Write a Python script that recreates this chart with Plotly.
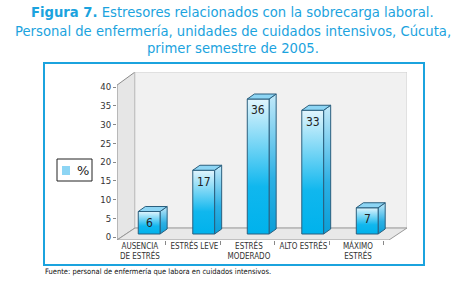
import plotly.graph_objects as go

# ---- data ----
categories = ["AUSENCIA<br>DE ESTRÉS", "ESTRÉS LEVE", "ESTRÉS<br>MODERADO", "ALTO ESTRÉS", "MÁXIMO<br>ESTRÉS"]
percent = [6, 17, 36, 33, 7]
y_ticks = [0, 5, 10, 15, 20, 25, 30, 35, 40]
title_lines = ["<b>Figura 7.</b> Estresores relacionados con la sobrecarga laboral.",
               "Personal de enfermería, unidades de cuidados intensivos, Cúcuta,",
               "primer semestre de 2005."]

# ---- style / geometry constants ----
BLUE = "#1ba3de"
EDGE = "#2b5f7e"
X_RANGE = [-0.42, 4.9]
Y_RANGE = [-0.8, 44.0]
DX, DY = 0.33, 3.2          # depth of the chart box
BDX, BDY = 0.13, 1.33        # depth of each bar
LIFT = 0.8                   # bars stand mid-depth on the floor
BAR_L, BAR_R = -0.03, 0.37   # bar front face relative to category position
NARROW = "Liberation Sans Narrow, DejaVu Sans Condensed, Arial Narrow, sans-serif"

xs = list(range(len(categories)))
fig = go.Figure()

def poly(x, y, fill=None, line="#9a9a9a", width=1, grad=None):
    kw = dict(x=x, y=y, mode="lines", fill="toself", line=dict(color=line, width=width),
              hoverinfo="skip", showlegend=False)
    if grad is not None:
        kw["fillgradient"] = dict(type="vertical", colorscale=grad)
    else:
        kw["fillcolor"] = fill
    fig.add_trace(go.Scatter(**kw))

x0, x1 = X_RANGE
y0, y1 = Y_RANGE
top_front = y_ticks[-1] + 0.5
# left wall
poly([x0, x0, x0 + DX, x0 + DX, x0], [y0, top_front, y1, y0 + DY, y0], fill="#e6e6e6", line="#8a8a8a")
# back wall
poly([x0 + DX, x1, x1, x0 + DX, x0 + DX], [y0 + DY, y0 + DY, y1, y1, y0 + DY], fill="#f1f1f1", line="#d0d0d0")
# floor
poly([x0, x1 - DX, x1, x0 + DX, x0], [y0, y0, y0 + DY, y0 + DY, y0], fill="#e8e8e8", line="#999999")

front_grad = [[0, "#00b2ec"], [0.35, "#10b7ee"], [1, "#e2f5fd"]]
side_grad = [[0, "#0a9fd8"], [0.4, "#2cb0e4"], [1, "#c4eafa"]]

for c, v in zip(xs, percent):
    a, b = c + BAR_L, c + BAR_R
    bot, top = LIFT, v + LIFT
    poly([b, b + BDX, b + BDX, b, b], [bot, bot + BDY, top + BDY, top, bot], line=EDGE, grad=side_grad)
    poly([a, b, b, a, a], [bot, bot, top, top, bot], line=EDGE, grad=front_grad)
    poly([a, b, b + BDX, a + BDX, a], [top, top, top + BDY, top + BDY, top], fill="#8dd5f4", line=EDGE)
    fig.add_annotation(x=(a + b) / 2, y=top - 3.0, text=str(v), showarrow=False,
                       font=dict(family=NARROW, size=12, color="#222222"))

fig.add_trace(go.Scatter(x=[None], y=[None], xaxis="x2", showlegend=False, hoverinfo="skip"))

# ---- layout ----
W, H = 465, 305
L, R, T, B = 117, 58, 72, 65
pw, ph = W - L - R, H - T - B
def px2paper(px, py):
    return (px - L) / pw, (H - B - py) / ph

shapes = []
fx0, fy0 = px2paper(44, 265)
fx1, fy1 = px2paper(424, 63)
shapes.append(dict(type="rect", xref="paper", yref="paper", x0=fx0, y0=fy0, x1=fx1, y1=fy1,
                   line=dict(color=BLUE, width=2), layer="below"))
lx0, ly0 = px2paper(57, 181)
lx1, ly1 = px2paper(92, 159)
shapes.append(dict(type="rect", xref="paper", yref="paper", x0=lx0, y0=ly0, x1=lx1, y1=ly1,
                   line=dict(color="#222222", width=1), fillcolor="white"))
sx0, sy0 = px2paper(62, 175)
sx1, sy1 = px2paper(70, 166)
shapes.append(dict(type="rect", xref="paper", yref="paper", x0=sx0, y0=sy0, x1=sx1, y1=sy1,
                   line=dict(width=0), fillcolor="#8dd5f4"))

ax, ay = px2paper(83, 170)
fig.add_annotation(xref="paper", yref="paper", x=ax, y=ay, xanchor="center", yanchor="middle",
                   text="%", showarrow=False,
                   font=dict(family="DejaVu Sans", size=13, color="#222222"))
srx, sry = px2paper(43, 278)
fig.add_annotation(xref="paper", yref="paper", x=srx, y=sry, xanchor="left", showarrow=False,
                   text="Fuente: personal de enfermería que labora en cuidados intensivos.",
                   font=dict(family=NARROW, size=7.5, color="#111111"))
for line_txt, line_y in zip(title_lines, [13, 31, 48]):
    tx, ty = px2paper(W / 2, line_y)
    fig.add_annotation(xref="paper", yref="paper", x=tx, y=ty, xanchor="center", yanchor="middle",
                       showarrow=False, text=line_txt,
                       font=dict(family="DejaVu Sans", size=13.2, color=BLUE))

fig.update_layout(
    width=W, height=H,
    margin=dict(l=L, r=R, t=T, b=B),
    paper_bgcolor="white", plot_bgcolor="white",
    shapes=shapes,
    xaxis=dict(range=X_RANGE, tickvals=xs, ticktext=categories, ticks="", showgrid=False,
               zeroline=False, showline=False, tickfont=dict(family=NARROW, size=8, color="#333333")),
    xaxis2=dict(range=X_RANGE, overlaying="x", side="bottom", tickvals=[i + 0.47 for i in xs],
                showticklabels=False, ticks="outside", ticklen=4, tickcolor="#888888",
                showgrid=False, zeroline=False, showline=False),
    yaxis=dict(range=Y_RANGE, tickvals=y_ticks, ticks="outside", ticklen=3, tickcolor="#888888",
               showgrid=False, zeroline=False, showline=False,
               tickfont=dict(family=NARROW, size=9.5, color="#333333")),
)

fig.write_html("out.html", config={"displayModeBar": False},
               post_script="document.body.style.margin='0';")
